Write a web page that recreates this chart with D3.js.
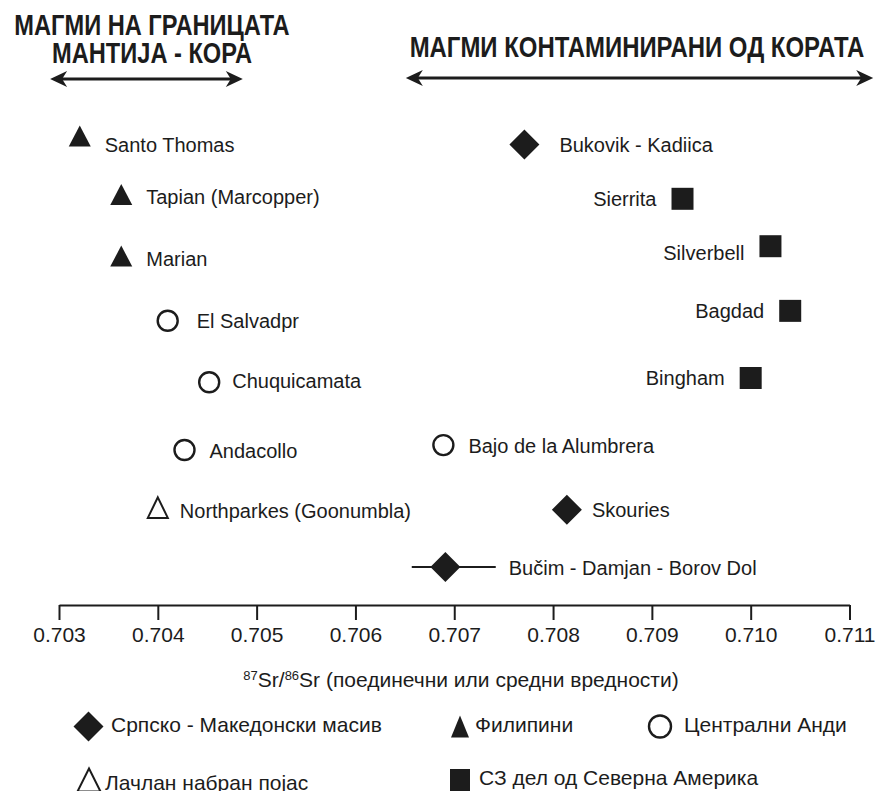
<!DOCTYPE html>
<html>
<head>
<meta charset="utf-8">
<script src="https://cdn.jsdelivr.net/npm/d3@7"></script>
<style>
  html, body { margin: 0; padding: 0; background: #ffffff; }
  svg { display: block; }
  .lbl { font-family: "Liberation Sans", Arial, sans-serif; font-size: 20px; fill: #1c1c1c; }
  .condensed { font-family: "Liberation Sans", Arial, sans-serif; fill: #1c1c1c; }
</style>
</head>
<body>
<svg id="chart" width="875" height="791"></svg>
<script>
// Porphyry deposits and their 87Sr/86Sr ratios (single or mean values)
const deposits = [
  "Santo Thomas", "Tapian (Marcopper)", "Marian", "El Salvadpr", "Chuquicamata",
  "Andacollo", "Northparkes (Goonumbla)", "Bučim - Damjan - Borov Dol",
  "Bukovik - Kadiica", "Sierrita", "Silverbell", "Bagdad", "Bingham",
  "Bajo de la Alumbrera", "Skouries"
];
const srRatio = [
  0.70321, 0.70363, 0.70363, 0.70410, 0.70452,
  0.70427, 0.70400, 0.70691,
  0.70771, 0.70931, 0.71020, 0.71040, 0.71000,
  0.70689, 0.70814
];
// range of measured values (only given for Bučim)
const srMin = [null, null, null, null, null, null, null, 0.70657, null, null, null, null, null, null, null];
const srMax = [null, null, null, null, null, null, null, 0.70742, null, null, null, null, null, null, null];
// province of each deposit
const region = ["ph", "ph", "ph", "ca", "ca", "ca", "lf", "sm", "sm", "na", "na", "na", "na", "ca", "sm"];
// listing row of each deposit (0 = top)
const row = [0, 0.95, 1.95, 3.0, 4.0, 5.1, 6.04, 7, 0.14, 1.02, 1.79, 2.84, 3.93, 5.02, 6.07];

const regionKeys = ["sm", "ph", "ca", "lf", "na"];
const regionNames = [
  "Српско - Македонски масив", "Филипини", "Централни Анди",
  "Лачлан набран појас", "СЗ дел од Северна Америка"
];

const tickValues = [0.703, 0.704, 0.705, 0.706, 0.707, 0.708, 0.709, 0.710, 0.711];

// magma source fields shown as double arrows above the plot
const fieldNames = [["МАГМИ НА ГРАНИЦАТА", "МАНТИЈА - КОРА"], ["МАГМИ КОНТАМИНИРАНИ ОД КОРАТА"]];
const fieldFrom = [0.70291, 0.70651];
const fieldTo = [0.70486, 0.71124];

const axisTitle = { iso1: "87", el1: "Sr/", iso2: "86", el2: "Sr (поединечни или средни вредности)" };

// ---------------------------------------------------------------------------
const svg = d3.select("#chart");
svg.append("rect").attr("width", 875).attr("height", 791).attr("fill", "#ffffff");

const x = d3.scaleLinear().domain([0.703, 0.711]).range([59, 849.5]);
const y = d3.scaleLinear().domain([0, 7]).range([136, 567]);
const axisY = 605;
const ink = "#1c1c1c";

// text that can be condensed horizontally (narrow face emulated by scaling)
function condensedText(parent, px, py, anchor, size, weight, sx) {
  const g = parent.append("g").attr("transform", `translate(${px},${py}) scale(${sx},1)`);
  return g.append("text").attr("class", "condensed")
    .attr("text-anchor", anchor)
    .style("font-size", size + "px")
    .style("font-weight", weight);
}

// marker shapes, centred on (0,0)
function shapePath(key) {
  switch (key) {
    case "ph": return "M0,-10.5L11,10.5L-11,10.5Z";
    case "lf": return "M0,-10.5L10,10L-10,10Z";
    case "sm": return "M0,-15L15,0L0,15L-15,0Z";
    case "na": return "M-11,-11H11V11H-11Z";
    default: return null;
  }
}
function drawMarker(g, key) {
  if (key === "ca") {
    g.append("circle").attr("r", 10).attr("fill", "none").attr("stroke", ink).attr("stroke-width", 2.4);
  } else if (key === "lf") {
    g.append("path").attr("d", shapePath(key)).attr("fill", "none")
      .attr("stroke", ink).attr("stroke-width", 2).attr("stroke-linejoin", "miter");
  } else {
    g.append("path").attr("d", shapePath(key)).attr("fill", ink);
  }
}

// ---- titles and arrows
const titles = svg.append("g");
condensedText(titles, 152, 35, "middle", 29, "bold", 0.815).text(fieldNames[0][0]);
condensedText(titles, 152, 63, "middle", 29, "bold", 0.815).text(fieldNames[0][1]);
condensedText(titles, 637, 57, "middle", 29, "bold", 0.825).text(fieldNames[1][0]);

const arrowY = [79, 78];
function arrowHead(g, xTip, yy, dir) {
  const L = 17, W = 8, N = 12;
  g.append("path")
    .attr("d", `M${xTip},${yy}L${xTip - dir * L},${yy - W}L${xTip - dir * N},${yy}L${xTip - dir * L},${yy + W}Z`)
    .attr("fill", ink);
}
fieldFrom.forEach((f, i) => {
  const g = svg.append("g");
  const x0 = x(f), x1 = x(fieldTo[i]), yy = arrowY[i];
  g.append("line").attr("x1", x0 + 6).attr("x2", x1 - 6).attr("y1", yy).attr("y2", yy)
    .attr("stroke", ink).attr("stroke-width", 3);
  arrowHead(g, x0, yy, -1);
  arrowHead(g, x1, yy, 1);
});

// ---- axis
const axis = d3.axisBottom(x)
  .tickValues(tickValues)
  .tickFormat(d3.format(".3f"))
  .tickSize(15)
  .tickSizeOuter(0)
  .tickPadding(7);
const gAxis = svg.append("g").attr("transform", `translate(0,${axisY})`).call(axis);
gAxis.select(".domain").attr("stroke", ink).attr("stroke-width", 2);
gAxis.selectAll(".tick line").attr("stroke", ink).attr("stroke-width", 2);
gAxis.selectAll(".tick text")
  .attr("fill", ink)
  .style("font-family", '"Liberation Sans", Arial, sans-serif')
  .style("font-size", "21px");

// axis title with superscript isotope numbers
const at = condensedText(svg, 461, 687, "middle", 21, "normal", 1);
at.append("tspan").attr("baseline-shift", "super").style("font-size", "13px").text(axisTitle.iso1);
at.append("tspan").text(axisTitle.el1);
at.append("tspan").attr("baseline-shift", "super").style("font-size", "13px").text(axisTitle.iso2);
at.append("tspan").text(axisTitle.el2);

// ---- deposits
const data = deposits.map((name, i) => ({
  name, value: srRatio[i], lo: srMin[i], hi: srMax[i], region: region[i], row: row[i]
}));

// small label nudges for individual deposits
const labelNudge = {
  "Bukovik - Kadiica": [10, 0],
  "El Salvadpr": [4, 0],
  "Chuquicamata": [-2, -2],
  "Santo Thomas": [0, 6],
  "Silverbell": [0, 6],
  "Northparkes (Goonumbla)": [-3, 0]
};

const pts = svg.append("g");
data.forEach(d => {
  const cx = x(d.value), cy = y(d.row);
  if (d.lo != null) {
    pts.append("line").attr("x1", x(d.lo)).attr("x2", x(d.hi)).attr("y1", cy).attr("y2", cy)
      .attr("stroke", ink).attr("stroke-width", 2);
  }
  const g = pts.append("g").attr("transform", `translate(${cx},${cy})`);
  drawMarker(g, d.region);

  const nudge = labelNudge[d.name] || [0, 0];
  const dy = (d.region === "ph" || d.region === "lf") ? 10 : 7.5;
  let tx, anchor;
  if (d.region === "na") { tx = cx - 26; anchor = "end"; }
  else if (d.lo != null) { tx = x(d.hi) + 13; anchor = "start"; }
  else { tx = cx + 25; anchor = "start"; }
  pts.append("text").attr("class", "lbl")
    .attr("x", tx + nudge[0]).attr("y", cy + dy + nudge[1])
    .attr("text-anchor", anchor).text(d.name);
});

// ---- legend
const legendX = [88.5, 460, 660, 89, 460];
const legendY = [726.5, 726.5, 726.5, 780, 780];
const leg = svg.append("g");
regionKeys.forEach((k, i) => {
  const g = leg.append("g").attr("transform", `translate(${legendX[i]},${legendY[i]})`);
  if (k === "lf") {
    g.append("path").attr("d", "M0,-11.5L11.5,11.5L-11.5,11.5Z").attr("fill", "none")
      .attr("stroke", ink).attr("stroke-width", 2);
  } else if (k === "ph") {
    g.append("path").attr("d", "M0,-11L9,11L-9,11Z").attr("fill", ink);
  } else if (k === "na") {
    g.append("path").attr("d", "M-10,-11H10V11H-10Z").attr("fill", ink);
  } else if (k === "ca") {
    g.append("circle").attr("r", 11).attr("fill", "none").attr("stroke", ink).attr("stroke-width", 2.4);
  } else {
    g.append("path").attr("d", "M0,-15L15,0L0,15L-15,0Z").attr("fill", ink);
  }
  const off = k === "sm" ? 22.5 : (k === "ph" ? 15 : (k === "lf" ? 16 : (k === "na" ? 19 : 24)));
  condensedText(leg, legendX[i] + off, legendY[i] + (k === "lf" ? 10 : 5), "start", 21, "normal", 1)
    .text(regionNames[i]);
});
</script>
</body>
</html>
